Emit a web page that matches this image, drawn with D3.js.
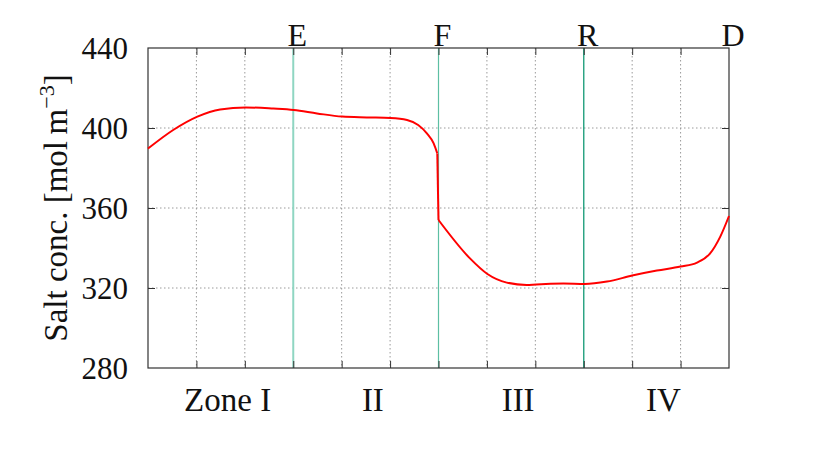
<!DOCTYPE html>
<html><head><meta charset="utf-8">
<script src="https://cdn.jsdelivr.net/npm/d3@7"></script>
<style>body{margin:0;background:#fff;} text{font-family:"Liberation Serif","Times New Roman",serif;fill:#111;}</style>
</head><body>
<svg id="chart" width="830" height="465"></svg>
<script>
// Data
const posA = [0,0.52,1.02,1.49,2.02,2.59,3.01,3.49,4.01,4.52,5.01,5.35,5.58,5.76,5.90,5.975];
const concA = [389.7,399,405.7,409.3,410.3,409.7,409,407.3,405.7,405.3,405,404,401.5,397.3,392.3,387.3];
const posB = [6.0,6.65,7.01,7.41,7.82,8.02,8.58,9.02,9.48,10.0,10.51,11.0,11.34,11.61,11.82,12.0];
const concB = [354,334.8,327,322.7,321.5,321.8,322.2,322,323.2,326.2,328.7,330.7,332.7,337.3,345.7,356];
const yTicks = [280,320,360,400,440];
const xGrid = [0,1,2,3,4,5,6,7,8,9,10,11,12];
const markers = ["E","F","R","D"];
const markerPos = [3,6,9,12];
const zones = ["Zone I","II","III","IV"];
const zoneStart = [0,3,6,9];
const zoneEnd = [3,6,9,12];

const svg = d3.select("#chart");
const L=148, R=729, T=48, B=368;
const x = d3.scaleLinear().domain([0,12]).range([L,R]);
const y = d3.scaleLinear().domain([280,440]).range([B,T]);

// grid
svg.append("g").selectAll("line").data(yTicks.slice(1,-1)).join("line")
  .attr("x1",L).attr("x2",R).attr("y1",d=>y(d)).attr("y2",d=>y(d))
  .attr("stroke","#9a9a9a").attr("stroke-width",1).attr("stroke-dasharray","1.5,2.5");
svg.append("g").selectAll("line").data(xGrid.slice(1,-1).filter(d=>!markerPos.includes(d))).join("line")
  .attr("y1",T).attr("y2",B).attr("x1",d=>x(d)).attr("x2",d=>x(d))
  .attr("stroke","#9a9a9a").attr("stroke-width",1).attr("stroke-dasharray","1.5,2.5");

// marker lines
const mColors = ["#8fd6c2","#5dbfa3","#23a07e"];
const mWidths = [2,1.2,1.4];
svg.append("g").selectAll("line").data(markerPos.slice(0,3)).join("line")
  .attr("y1",T).attr("y2",B).attr("x1",d=>x(d)).attr("x2",d=>x(d))
  .attr("stroke",(d,i)=>mColors[i]).attr("stroke-width",(d,i)=>mWidths[i]);

// axes with inner ticks
const ax = (g, axis) => { g.call(axis); g.select(".domain").remove(); g.selectAll("text").remove(); g.selectAll("line").attr("stroke","#333"); };
svg.append("g").attr("transform",`translate(0,${B})`).call(g=>ax(g,d3.axisBottom(x).tickValues(xGrid.slice(1,-1)).tickSize(-7)));
svg.append("g").attr("transform",`translate(0,${T})`).call(g=>ax(g,d3.axisTop(x).tickValues(xGrid.slice(1,-1)).tickSize(-7)));
svg.append("g").attr("transform",`translate(${L},0)`).call(g=>ax(g,d3.axisLeft(y).tickValues(yTicks.slice(1,-1)).tickSize(-7)));
svg.append("g").attr("transform",`translate(${R},0)`).call(g=>ax(g,d3.axisRight(y).tickValues(yTicks.slice(1,-1)).tickSize(-7)));

// frame
svg.append("rect").attr("x",L).attr("y",T).attr("width",R-L).attr("height",B-T)
  .attr("fill","none").attr("stroke","#333").attr("stroke-width",1.2);

// y tick labels
svg.append("g").selectAll("text").data(yTicks).join("text")
  .attr("x",L-20).attr("y",d=>y(d)).attr("dy","0.35em").attr("text-anchor","end")
  .attr("font-size",31).text(d=>d);

// top marker labels
svg.append("g").selectAll("text").data(markers).join("text")
  .attr("x",(d,i)=>x(markerPos[i])+4).attr("y",T-2).attr("text-anchor","middle")
  .attr("font-size",32).text(d=>d);

// zone labels
svg.append("g").selectAll("text").data(zones).join("text")
  .attr("x",(d,i)=>(x(zoneStart[i])+x(zoneEnd[i]))/2+7).attr("y",411).attr("text-anchor","middle")
  .attr("font-size",33).text(d=>d);

// y label
const yl = svg.append("text").attr("transform",`translate(67,${(T+B)/2}) rotate(-90)`)
  .attr("text-anchor","middle").attr("font-size",33);
yl.append("tspan").text("Salt conc. [mol\u2009m");
yl.append("tspan").attr("font-size",22).attr("dy",-13).text("\u22123");
yl.append("tspan").attr("dy",13).text("]");

// curve: two smooth pieces joined by the step at F
const line = d3.line().x(d=>x(d[0])).y(d=>y(d[1])).curve(d3.curveMonotoneX);
const dA = posA.map((v,i)=>[v,concA[i]]);
const dB = posB.map((v,i)=>[v,concB[i]]);
const g = svg.append("g").attr("fill","none").attr("stroke","#ff0000").attr("stroke-width",2);
g.append("path").attr("d",line(dA));
g.append("path").attr("d",d3.line().x(d=>x(d[0])).y(d=>y(d[1]))([dA[dA.length-1],dB[0]]));
g.append("path").attr("d",line(dB));
</script>
</body></html>
